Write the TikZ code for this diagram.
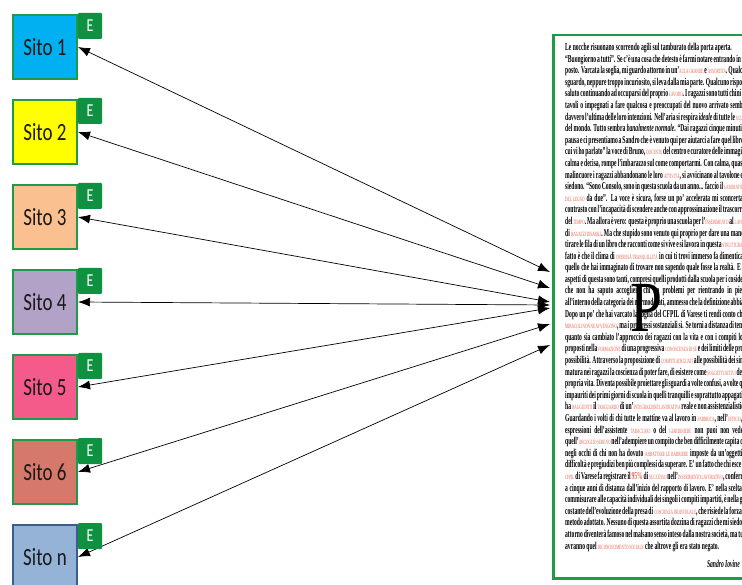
\documentclass[tikz,border=0pt]{standalone}
\usepackage{fontspec}
\setmainfont{Liberation Serif}
\newfontfamily\carlito{Carlito}
\usepackage{graphicx}
\usetikzlibrary{shapes, arrows.meta}

\definecolor{verde}{HTML}{1E9A48}
\definecolor{verdeE}{HTML}{0F9142}
\definecolor{ciano}{HTML}{00B0F0}
\definecolor{giallo}{HTML}{FFFF00}
\definecolor{pesca}{HTML}{FAC090}
\definecolor{lilla}{HTML}{B3A2C7}
\definecolor{rosa}{HTML}{F45A8A}
\definecolor{mattone}{HTML}{D6786A}
\definecolor{azzurro}{HTML}{95B3D7}
\definecolor{bluscuro}{HTML}{3B5E8C}
\definecolor{rossotesto}{HTML}{E8604C}

\newcommand{\alto}[1]{\scalebox{1}[1.3]{#1}}
\newcommand{\rosso}[1]{\textcolor{rossotesto}{\mdseries\fontsize{5.5}{5.5}\selectfont\MakeUppercase{#1}}}
\newcommand{\riga}[1]{\makebox[295pt][s]{#1}\\}

\begin{document}
\begin{tikzpicture}[x=1pt, y=-1pt,
    sito/.style={draw=verde, line width=2pt, minimum size=64pt, inner sep=0pt,
        font=\carlito\fontsize{19}{19}\selectfont, text=black!90},
    etab/.style={fill=verdeE, rounded corners=1pt, minimum width=24pt, minimum height=26pt,
        inner sep=0pt, text=white, font=\carlito\fontsize{14}{14}\selectfont},
    link/.style={{Latex[length=12pt,width=9pt]}-{Latex[length=12pt,width=9pt]}, line width=0.7pt}]
    \useasboundingbox (0,0) rectangle (742,585);
    \clip (0,0) rectangle (742,585);
    \fill[white] (0,0) rectangle (742,585);

    % the page on the right
    \node[draw=verde, line width=2.5pt, fill=white, minimum width=218pt, minimum height=543pt,
        anchor=north west, inner sep=0pt] (doc) at (552,34) {};
    \node[anchor=north west, inner sep=0pt] (testo) at (565,43) {\scalebox{0.62}[1.17]{\parbox{420pt}{\fontsize{9}{9.91}\selectfont\bfseries
        \noindent Le nocche risuonano scorrendo agili sul tamburato della porta aperta.\\
        \riga{“Buongiorno a tutti”. Se c’è una cosa che detesto è farmi notare entrando in un}
        \riga{posto. Varcata la soglia, mi guardo attorno in un’\rosso{aula grande} e \rosso{assortita}. Qualche}
        \riga{sguardo, neppure troppo incuriosito, si leva dalla mia parte. Qualcuno risponde al}
        \riga{saluto continuando ad occuparsi del proprio \rosso{lavoro}. I ragazzi sono tutti chini sui}
        \riga{tavoli o impegnati a fare qualcosa e preoccupati del nuovo arrivato sembra}
        \riga{davvero l’ultima delle loro intenzioni. Nell’aria si respira \textit{ideale} di tutte le \rosso{scuole}}
        \riga{del mondo. Tutto sembra \textit{banalmente normale}. “Dai ragazzi cinque minuti di}
        \riga{pausa e ci presentiamo a Sandro che è venuto qui per aiutarci a fare quel libro di}
        \riga{cui vi ho parlato” la voce di Bruno, \rosso{docente} del centro e curatore delle immagini,}
        \riga{calma e decisa, rompe l’imbarazzo sul come comportarmi. Con calma, quasi a}
        \riga{malincuore i ragazzi abbandonano le loro \rosso{attività}, si avvicinano al tavolone e si}
        \riga{siedono. “Sono Consolo, sono in questa scuola da un anno... faccio il \rosso{laboratorio}}
        \riga{\rosso{del legno} da due”. La voce è sicura, forse un po’ accelerata mi sconcerta il}
        \riga{contrasto con l’incapacità di scendere anche con approssimazione il trascorrere}
        \riga{del \rosso{tempo}. Ma allora è vero: questa è proprio una scuola per l’\rosso{inserimento} al \rosso{lavoro}}
        \riga{di \rosso{ragazzi disabili}. Ma che stupido sono venuto qui proprio per dare una mano a}
        \riga{tirare le fila di un libro che racconti come si vive e si lavora in questa \rosso{struttura}. Il}
        \riga{fatto è che il clima di \rosso{operosa tranquillità} in cui ti trovi immerso fa dimenticare}
        \riga{quello che hai immaginato di trovare non sapendo quale fosse la realtà. E gli}
        \riga{aspetti di questa sono tanti, compresi quelli prodotti dalla scuola per i cosidetti}
        \riga{che non ha saputo accogliere chi ha problemi per rientrando in pieno}
        \riga{all’interno della categoria dei normodotati, ammesso che la definizione abbia un senso.}
        \riga{Dopo un po’ che hai varcato la soglia del CFPIL di Varese ti rendi conto che i}
        \riga{\rosso{miracoli non ne avvengono}, ma i progressi sostanziali sì. Se torni a distanza di tempo di}
        \riga{quanto sia cambiato l’approccio dei ragazzi con la vita e con i compiti loro}
        \riga{proposti nella \rosso{formazione} di una progressiva \rosso{conoscenza di sé} e dei limiti delle proprie}
        \riga{possibilità. Attraverso la proposizione di \rosso{compiti adeguati} alle possibilità dei singoli}
        \riga{matura nei ragazzi la coscienza di poter fare, di esistere come \rosso{soggetti attivi} della}
        \riga{propria vita. Diventa possibile proiettare gli sguardi a volte confusi, a volte quasi}
        \riga{impauriti dei primi giorni di scuola in quelli tranquilli e soprattutto appagati di chi}
        \riga{ha \rosso{raggiunto} il \rosso{traguardo} di un’\rosso{integrazione lavorativa} reale e non assistenzialistica.}
        \riga{Guardando i volti di chi tutte le mattine va al lavoro in \rosso{fabbrica}, nell’\rosso{ufficio}, le}
        \riga{espressioni dell’assistente \rosso{tabaccaio} o del \rosso{giardiniere} non puoi non vedere}
        \riga{quell’\rosso{orgoglio sereno} nell’adempiere un compito che ben difficilmente capita di vedere}
        \riga{negli occhi di chi non ha dovuto \rosso{abbattere le barriere} imposte da un’oggettiva}
        \riga{difficoltà e pregiudizi ben più complessi da superare. E’ un fatto che chi esce dal}
        \riga{\rosso{cfpil} di Varese fa registrare il \textcolor{rossotesto}{95\%} di \rosso{successo} nell’\rosso{inserimento lavorativo}, confermato}
        \riga{a cinque anni di distanza dall’inizio del rapporto di lavoro. E’ nella scelta di}
        \riga{commisurare alle capacità individuali dei singoli i compiti impartiti, è nella guida}
        \riga{costante dell’evoluzione della presa di \rosso{coscienza individuale}, che risiede la forza del}
        \riga{metodo adottato. Nessuno di questa assortita dozzina di ragazzi che mi siedono}
        \riga{attorno diventerà famoso nel malsano senso inteso dalla nostra società, ma tutti}
        avranno quel \rosso{riconoscimento sociale} che altrove gli era stato negato.}}};
    \node[anchor=base east, inner sep=0pt, font=\bfseries\itshape\fontsize{9}{9}\selectfont] (firma) at (740,567) {\scalebox{0.62}[1.17]{Sandro Iovine}};
    \node[inner sep=0pt, font=\fontsize{60}{60}\selectfont] (P) at (647,308) {\scalebox{0.96}[1.2]{P}};

    % ends on the page
    \coordinate (p1) at (550,272);
    \coordinate (p2) at (550,288);
    \coordinate (p3) at (550,302);
    \coordinate (p4) at (550,305);
    \coordinate (p5) at (550,308);
    \coordinate (p6) at (550,324);
    \coordinate (pn) at (550,345);

    \draw[link] (78,47) coordinate (a1) -- (p1);
    \draw[link] (78,132) coordinate (a2) -- (p2);
    \draw[link] (78,217) coordinate (a3) -- (p3);
    \draw[link] (78,302) coordinate (a4) -- (p4);
    \draw[link] (78,387) coordinate (a5) -- (p5);
    \draw[link] (78,472) coordinate (a6) -- (p6);
    \draw[link] (78,557) coordinate (an) -- (pn);

    \node[sito, fill=ciano] (s1) at (45,47) {\alto{Sito 1}};
    \node[sito, fill=giallo] (s2) at (45,132) {\alto{Sito 2}};
    \node[sito, fill=pesca] (s3) at (45,217) {\alto{Sito 3}};
    \node[sito, fill=lilla] (s4) at (45,302) {\alto{Sito 4}};
    \node[sito, fill=rosa] (s5) at (45,387) {\alto{Sito 5}};
    \node[sito, fill=mattone] (s6) at (45,472) {\alto{Sito 6}};
    \node[sito, fill=azzurro, draw=bluscuro] (sn) at (45,557) {\alto{Sito n}};

    \node[etab] (e1) at (90,26) {\alto{E}};
    \node[etab] (e2) at (90,111) {\alto{E}};
    \node[etab] (e3) at (90,196) {\alto{E}};
    \node[etab] (e4) at (90,281) {\alto{E}};
    \node[etab] (e5) at (90,366) {\alto{E}};
    \node[etab] (e6) at (90,451) {\alto{E}};
    \node[etab] (en) at (90,536) {\alto{E}};
\end{tikzpicture}
\end{document}
